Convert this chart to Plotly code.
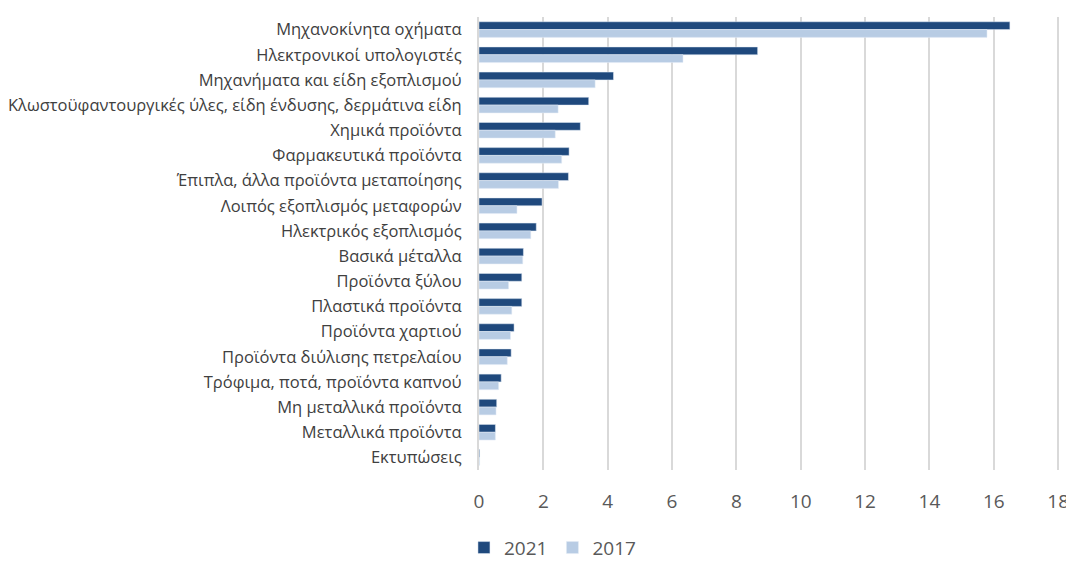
import plotly.graph_objects as go

categories = ['Μηχανοκίνητα οχήματα', 'Ηλεκτρονικοί υπολογιστές', 'Μηχανήματα και είδη εξοπλισμού',
              'Κλωστοϋφαντουργικές ύλες, είδη ένδυσης, δερμάτινα είδη', 'Χημικά προϊόντα',
              'Φαρμακευτικά προϊόντα', 'Έπιπλα, άλλα προϊόντα μεταποίησης', 'Λοιπός εξοπλισμός μεταφορών',
              'Ηλεκτρικός εξοπλισμός', 'Βασικά μέταλλα', 'Προϊόντα ξύλου', 'Πλαστικά προϊόντα',
              'Προϊόντα χαρτιού', 'Προϊόντα διύλισης πετρελαίου', 'Τρόφιμα, ποτά, προϊόντα καπνού',
              'Μη μεταλλικά προϊόντα', 'Μεταλλικά προϊόντα', 'Εκτυπώσεις']
values_2021 = [16.5, 8.66, 4.18, 3.41, 3.15, 2.80, 2.78, 1.96, 1.78, 1.38, 1.33, 1.33,
               1.09, 1.00, 0.69, 0.55, 0.51, 0.02]
values_2017 = [15.79, 6.34, 3.61, 2.46, 2.37, 2.57, 2.47, 1.18, 1.61, 1.36, 0.92, 1.02,
               0.98, 0.88, 0.61, 0.53, 0.51, 0.02]
x_ticks = [0, 2, 4, 6, 8, 10, 12, 14, 16, 18]

fig = go.Figure()
fig.add_trace(go.Bar(y=categories, x=values_2021, orientation='h', name='2021',
                     marker=dict(color='#1F497D')))
fig.add_trace(go.Bar(y=categories, x=values_2017, orientation='h', name='2017',
                     marker=dict(color='#B8CCE4')))

# page body has an 8px margin, so the figure is a bit smaller than the window
fig.update_layout(
    width=1066, height=553,
    margin=dict(l=471, r=12, t=9, b=91),
    barmode='group', bargap=0.38, bargroupgap=0,
    plot_bgcolor='white', paper_bgcolor='white',
    font=dict(family='Open Sans', color='#404040'),
    legend=dict(orientation='h', x=0.126, xanchor='center', yref='container', y=0.024, yanchor='middle',
                font=dict(size=19, color='#595959'), traceorder='normal'),
)
fig.update_xaxes(range=[0, 18.12], tickvals=x_ticks, showgrid=True, gridcolor='#D9D9D9', gridwidth=2,
                 zeroline=False, tickfont=dict(size=19, color='#595959'), ticks='', ticklabelstandoff=18,
                 automargin=False)
fig.update_yaxes(autorange='reversed', tickfont=dict(size=16.5, color='#404040'), ticks='',
                 ticklabelstandoff=12, showline=True, linecolor='#D9D9D9', linewidth=2, automargin=False)

fig.write_html("out.html")
